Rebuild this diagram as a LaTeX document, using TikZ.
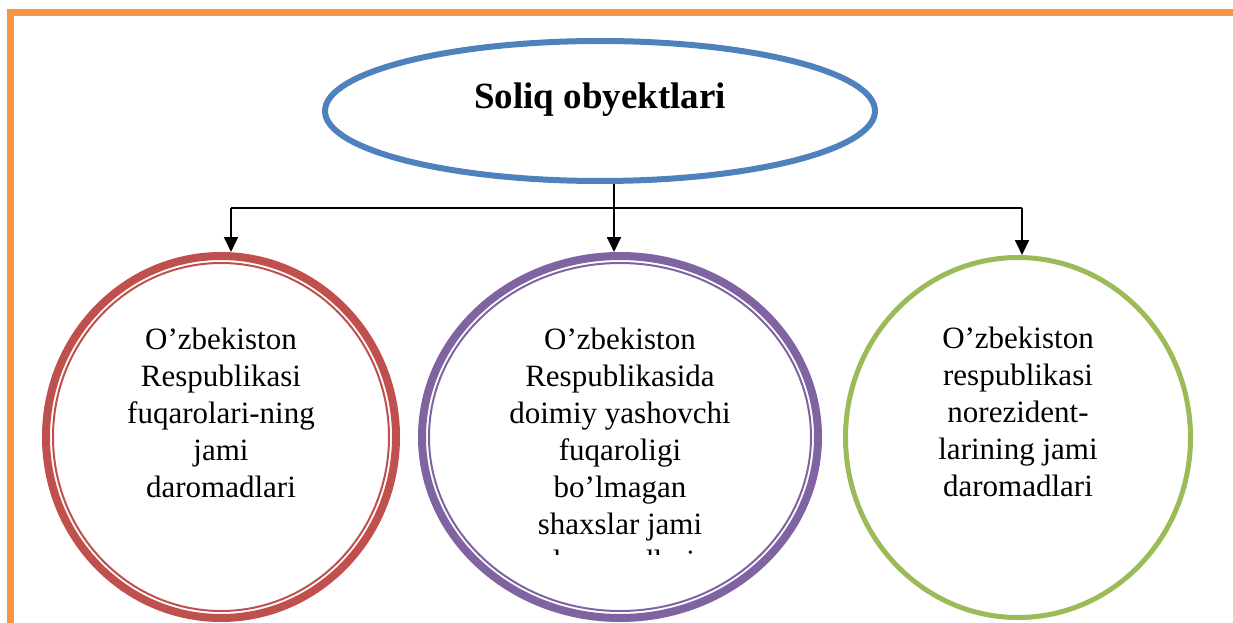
\documentclass[tikz,border=0pt]{standalone}
\usepackage{fontspec}
\setmainfont{Liberation Serif}
\usetikzlibrary{shapes.geometric,arrows.meta}

\definecolor{framecol}{HTML}{F79646}
\definecolor{titlecol}{HTML}{4F81BD}
\definecolor{leftcol}{HTML}{C0504D}
\definecolor{midcol}{HTML}{8064A2}
\definecolor{rightcol}{HTML}{9BBB59}

\tikzset{
  obj/.style={ellipse, draw, inner sep=0pt},
  txt/.style={align=center, inner sep=0pt, font=\fontsize{31}{37}\selectfont},
  conn/.style={line width=1.8pt, -{Triangle[length=15pt,width=14pt]}},
}

\begin{document}
\begin{tikzpicture}[x=1pt,y=-1pt]
  \useasboundingbox (0,0) rectangle (1233,623);

  % frame
  \draw[framecol, line width=7pt] (10,640) -- (10,13) -- (1250,13);

  % shapes
  \node[obj, draw=titlecol, line width=6pt, minimum width=550pt, minimum height=140pt] (title) at (600,111) {};
  \node[obj, draw=leftcol, line width=8pt, minimum width=350pt, minimum height=362pt] (left) at (221,437) {};
  \node[obj, draw=midcol, line width=8pt, minimum width=396pt, minimum height=362pt] (mid) at (620,437) {};
  \node[obj, draw=rightcol, line width=5pt, minimum width=345pt, minimum height=360pt] (right) at (1018,437.5) {};

  % inner rings
  \draw[leftcol, line width=2pt] (left.center) ellipse [x radius=168pt, y radius=174pt];
  \draw[midcol, line width=2pt] (mid.center) ellipse [x radius=191pt, y radius=174pt];

  % texts
  \node[font=\bfseries\fontsize{37}{44}\selectfont, anchor=base] (titletxt) at (600,109) {Soliq obyektlari};
  \node[txt] (lefttxt) at (221,413) {O’zbekiston\\Respublikasi\\fuqarolari-ning\\jami\\daromadlari};
  \begin{scope}
    \clip (418,0) rectangle (822,554);
    \node[txt] (midtxt) at (620,449.5) {O’zbekiston\\Respublikasida\\doimiy yashovchi\\fuqaroligi\\bo’lmagan\\shaxslar jami\\daromadlari};
  \end{scope}
  \node[txt] (righttxt) at (1018,412) {O’zbekiston\\respublikasi\\norezident-\\larining jami\\daromadlari};

  % connectors
  \coordinate (fork) at (614,208);
  \coordinate (lfork) at (231,208);
  \coordinate (rfork) at (1022,208);
  \draw[line width=1.8pt] (title.south -| fork) -- (fork);
  \draw[line width=1.8pt] (lfork) -- (rfork);
  \draw[conn] (fork) -- (fork |- mid.north);
  \draw[conn] (lfork) -- (lfork |- left.north);
  \draw[conn] (rfork) -- (rfork |- right.north);

\end{tikzpicture}
\end{document}
